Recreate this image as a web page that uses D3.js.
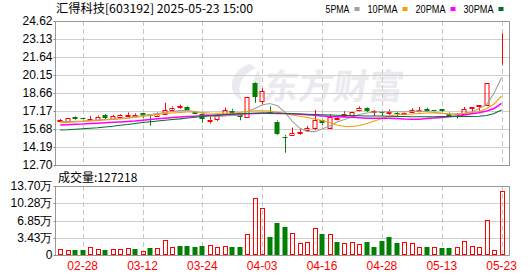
<!DOCTYPE html>
<html lang="zh">
<head>
<meta charset="utf-8">
<title>汇得科技 K线</title>
<script src="https://d3js.org/d3.v7.min.js"></script>
<style>
  body { margin: 0; background: #fff; }
  svg { display: block; }
  .axis text { font-family: "Liberation Sans", Arial, sans-serif; font-size: 12px; fill: #000; }
  .axis line { stroke: #888; }
  .xaxis text { fill: #f00; }
</style>
</head>
<body>
<script>
// trading days shown
const dates = ["02-25","02-26","02-27","02-28","03-03","03-04","03-05","03-06","03-07","03-10",
  "03-11","03-12","03-13","03-14","03-17","03-18","03-19","03-20","03-21","03-24",
  "03-25","03-26","03-27","03-28","03-31","04-01","04-02","04-03","04-07","04-08",
  "04-09","04-10","04-11","04-14","04-15","04-16","04-17","04-18","04-21","04-22",
  "04-23","04-24","04-25","04-28","04-29","04-30","05-06","05-07","05-08","05-09",
  "05-12","05-13","05-14","05-15","05-16","05-19","05-20","05-21","05-22","05-23"];

const open = [16.35,16.30,16.68,16.55,16.45,16.45,16.82,16.50,16.60,16.75,16.75,16.98,16.85,16.80,16.90,17.30,17.50,17.50,17.10,16.90,
  16.35,16.50,16.90,17.20,16.85,16.65,19.50,17.95,17.10,16.30,15.05,15.20,15.40,15.55,15.78,16.40,15.80,16.55,16.75,16.80,
  17.20,17.45,17.10,17.10,17.05,17.00,16.90,17.05,17.20,17.35,17.25,17.30,16.95,16.90,16.90,17.45,17.60,17.72,21.45,23.60];
const close = [16.42,16.55,16.50,16.45,16.50,16.70,16.58,16.75,16.80,16.85,16.85,16.82,16.80,16.95,17.25,17.45,17.55,17.28,16.95,16.50,
  16.45,16.85,17.25,17.00,16.70,18.30,18.35,18.80,16.95,15.27,14.98,15.35,15.45,15.75,16.43,16.15,16.70,16.62,16.95,17.05,
  17.40,17.20,17.15,17.05,17.10,16.95,17.00,17.25,17.25,17.15,17.20,17.15,16.80,16.82,17.30,17.50,17.65,19.50,21.45,23.60];
const high = [16.50,16.60,16.72,16.60,16.75,16.80,16.90,16.85,16.90,17.05,16.98,17.00,16.90,17.05,17.85,17.55,17.70,17.55,17.15,16.95,
  16.70,16.90,17.45,17.35,16.90,18.35,19.55,19.05,17.55,16.40,15.18,15.80,15.65,15.92,17.25,16.45,16.90,16.75,17.15,17.10,
  17.55,17.50,17.25,17.12,17.30,17.05,17.05,17.40,17.50,17.45,17.25,17.30,17.05,17.00,17.50,17.50,17.65,19.50,21.45,23.60];
const low = [16.28,16.25,16.45,16.40,16.35,16.40,16.50,16.45,16.55,16.65,16.70,16.60,15.95,16.75,16.85,17.25,17.35,17.25,16.90,16.20,
  16.15,16.35,16.85,16.80,16.40,16.60,17.85,17.70,16.90,15.20,13.72,15.20,15.20,15.50,15.60,16.00,15.75,16.40,16.70,16.78,
  17.15,17.10,16.75,16.75,16.85,16.75,16.85,17.05,17.05,17.10,17.15,17.10,16.75,16.55,16.90,17.00,17.20,17.70,21.45,21.00];

const ma5 = [16.28,16.30,16.32,16.34,16.38,16.42,16.47,16.51,16.55,16.61,16.71,16.80,16.88,16.96,17.05,17.13,17.20,17.21,17.13,17.00,
  16.80,16.71,16.76,16.80,16.80,17.11,17.38,17.67,17.79,17.62,17.10,16.34,15.76,15.47,15.46,15.68,15.93,16.26,16.47,16.67,
  16.88,17.00,17.09,17.11,17.11,17.11,17.11,17.13,17.17,17.13,17.05,16.98,16.92,16.90,16.98,17.09,17.38,17.71,18.65,19.94];
const ma10 = [16.20,16.23,16.26,16.30,16.34,16.38,16.42,16.47,16.51,16.57,16.63,16.71,16.80,16.88,16.96,17.00,17.05,17.09,17.09,17.05,
  17.00,16.98,16.98,16.98,17.05,17.13,17.19,17.19,17.17,17.06,16.96,16.84,16.73,16.63,16.51,16.38,16.22,16.01,15.89,15.89,
  15.97,16.14,16.34,16.55,16.76,16.86,16.90,16.92,16.96,17.00,17.00,16.98,16.92,16.92,16.96,17.05,17.13,17.38,17.75,18.41];
const ma20 = [16.01,16.04,16.07,16.09,16.14,16.16,16.19,16.23,16.26,16.30,16.34,16.40,16.47,16.52,16.57,16.63,16.67,16.71,16.74,16.77,
  16.81,16.84,16.86,16.90,16.92,16.94,16.96,16.98,16.98,16.96,16.96,16.94,16.90,16.86,16.81,16.76,16.72,16.70,16.67,16.65,
  16.61,16.57,16.57,16.57,16.57,16.55,16.51,16.49,16.49,16.55,16.59,16.63,16.70,16.76,16.84,16.94,17.03,17.17,17.38,17.81];
const ma30 = [15.60,15.62,15.66,15.70,15.74,15.78,15.85,15.91,15.99,16.05,16.14,16.22,16.28,16.34,16.41,16.47,16.52,16.59,16.65,16.71,
  16.76,16.81,16.86,16.90,16.94,16.96,16.98,16.99,16.99,16.98,16.96,16.94,16.92,16.90,16.88,16.86,16.84,16.82,16.80,16.79,
  16.78,16.76,16.76,16.75,16.74,16.72,16.72,16.70,16.70,16.70,16.70,16.71,16.71,16.71,16.71,16.71,16.73,16.80,16.96,17.25];

const volume = [11300,9300,9900,9900,15200,11300,9900,12600,11300,13200,11900,7900,13900,13900,29800,15200,17900,17900,16500,17900,
  19200,15900,17900,15900,15900,41700,112600,92700,35700,64200,56300,43700,23200,25800,53000,41700,41700,26500,23800,25800,
  21800,26500,15900,28500,35700,23800,25800,23800,15900,15900,15900,13900,13900,15900,27800,17900,15900,69500,9900,127218];
// 1 = red (up) volume bar, 0 = green
const volUp = [1,1,0,0,1,1,0,1,1,1,0,1,0,1,1,1,0,0,0,0,1,1,1,0,0,1,1,1,0,0,
  0,1,1,1,1,0,1,0,1,1,1,0,0,0,0,0,1,1,1,0,1,0,0,1,1,1,1,1,1,1];

const priceTicks = [12.70,14.19,15.68,17.17,18.66,20.15,21.64,23.13,24.62];
const volTicks = [0,34250,68500,102750,137000];
const volTickLabels = ["0","3.43万","6.85万","10.28万","13.70万"];
const dateTicks = ["02-28","03-12","03-24","04-03","04-16","04-28","05-13","05-23"];
const maNames = ["5PMA","10PMA","20PMA","30PMA"];
const maColors = ["#a0a0a0","#f5a000","#ff00ff","#00702a"];

const title = "汇得科技[603192] 2025-05-23 15:00";
const volTitle = "成交量:127218";

const RED = "#ff0000", GREEN = "#008000";
const left = 55, right = 509;

const svg = d3.select("body").append("svg").attr("width", 530).attr("height", 276);

const x = d3.scaleBand().domain(dates).range([56.5, 505.3]);
const cx = d => x(d) + x.bandwidth() / 2;
const y = d3.scaleLinear().domain([12.70, 24.62]).range([165, 21]);
const yv = d3.scaleLinear().domain([0, 137000]).range([255, 186]);
const px = v => Math.round(v) + 0.5;

// watermark
const wm = svg.append("g").attr("fill", "#ebebef");
wm.append("path")
  .attr("d", "M250,64 C228,70 226,96 244,101 C236,92 238,76 256,68 Z M258,70 C252,82 250,92 256,100 C262,90 264,80 258,70 Z");
wm.append("text")
  .attr("x", 262).attr("y", 99)
  .attr("transform", "skewX(-8) translate(14,0)")
  .style("font-family", "'Noto Sans CJK SC', sans-serif")
  .style("font-weight", "bold")
  .style("font-size", "35px")
  .text("东方财富");

// grids
function panelGrid(scale, ticks, top, bottom) {
  svg.append("g").selectAll("line").data(ticks).enter().append("line")
    .attr("x1", left).attr("x2", right)
    .attr("y1", d => px(scale(d))).attr("y2", d => px(scale(d)))
    .attr("stroke", "#cfcfcf");
  svg.append("g").selectAll("line").data(dateTicks).enter().append("line")
    .attr("x1", d => px(cx(d))).attr("x2", d => px(cx(d)))
    .attr("y1", top).attr("y2", bottom)
    .attr("stroke", "#c8c8c8").attr("stroke-dasharray", "5,3");
  svg.append("rect")
    .attr("x", left + 0.5).attr("y", top + 0.5)
    .attr("width", right - left).attr("height", bottom - top)
    .attr("fill", "none").attr("stroke", "#999");
}
panelGrid(y, priceTicks, 21, 165);
panelGrid(yv, volTicks, 186, 255);

// axes
const ya = svg.append("g").attr("class", "axis").attr("transform", "translate(" + (left + 0.5) + ",0)")
  .call(d3.axisLeft(y).tickValues(priceTicks).tickFormat(d3.format(".2f")).tickSize(2).tickPadding(1).offset(0));
ya.select(".domain").remove();
ya.selectAll(".tick").attr("transform", d => "translate(0," + px(y(d)) + ")");

const va = svg.append("g").attr("class", "axis").attr("transform", "translate(" + (left + 0.5) + ",0)")
  .call(d3.axisLeft(yv).tickValues(volTicks).tickFormat((d, i) => volTickLabels[i]).tickSize(2).tickPadding(1).offset(0));
va.select(".domain").remove();
va.selectAll(".tick").attr("transform", d => "translate(0," + px(yv(d)) + ")");

const xa = svg.append("g").attr("class", "axis xaxis").attr("transform", "translate(0,255)")
  .call(d3.axisBottom(x).tickValues(dateTicks).tickSize(0).tickPadding(6));
xa.select(".domain").remove();

// candles
const idx = d3.range(dates.length);
const cg = svg.append("g");
idx.forEach(i => {
  const c = px(cx(dates[i]));
  const up = close[i] >= open[i];
  const col = up ? RED : GREEN;
  const yt = y(Math.max(open[i], close[i])), yb = y(Math.min(open[i], close[i]));
  cg.append("line").attr("x1", c).attr("x2", c)
    .attr("y1", y(high[i])).attr("y2", yt).attr("stroke", col);
  cg.append("line").attr("x1", c).attr("x2", c)
    .attr("y1", yb).attr("y2", y(low[i])).attr("stroke", col);
  if (up) {
    cg.append("rect").attr("x", c - 2.5).attr("y", px(yt))
      .attr("width", 4).attr("height", Math.max(0, Math.round(yb - yt)))
      .attr("fill", "none").attr("stroke", col);
  } else {
    cg.append("rect").attr("x", c - 3).attr("y", Math.round(yt))
      .attr("width", 5).attr("height", Math.max(1, Math.round(yb - yt)))
      .attr("fill", col);
  }
});

// moving averages
[ma5, ma10, ma20, ma30].forEach((arr, k) => {
  svg.append("path")
    .datum(idx)
    .attr("fill", "none")
    .attr("stroke", maColors[k])
    .attr("stroke-width", k === 2 ? 1.5 : 1.1)
    .attr("d", d3.line().x(i => cx(dates[i])).y(i => y(arr[i])));
});

// volume bars
svg.append("g").selectAll("rect").data(idx).enter().append("rect")
  .attr("x", i => volUp[i] ? px(cx(dates[i])) - 2 : px(cx(dates[i])) - 3)
  .attr("y", i => volUp[i] ? px(yv(volume[i])) : Math.round(yv(volume[i])))
  .attr("width", i => volUp[i] ? 4 : 5)
  .attr("height", i => volUp[i] ? Math.round(255 - yv(volume[i])) - 1 : Math.round(255 - yv(volume[i])))
  .attr("fill", i => volUp[i] ? "none" : GREEN)
  .attr("stroke", i => volUp[i] ? RED : "none");

// header texts
svg.append("text")
  .attr("x", 56).attr("y", 13)
  .attr("textLength", 197).attr("lengthAdjust", "spacingAndGlyphs")
  .style("font-family", "'Noto Sans CJK SC', sans-serif").style("font-size", "12px")
  .text(title);

const lg = svg.append("g").style("font-family", "'Liberation Sans', Arial, sans-serif").style("font-size", "11px");
let lx = 325.5;
maNames.forEach((name, k) => {
  const tw = name.length * 6;
  lg.append("text").attr("x", lx).attr("y", 13)
    .attr("textLength", tw).attr("lengthAdjust", "spacingAndGlyphs").text(name);
  lg.append("rect").attr("x", lx + tw + 5).attr("y", 7).attr("width", 5).attr("height", 4).attr("fill", maColors[k]);
  lx += tw + 18;
});

svg.append("text")
  .attr("x", 58).attr("y", 182)
  .style("font-family", "'Noto Sans CJK SC', sans-serif").style("font-size", "12px")
  .text(volTitle);
</script>
</body>
</html>
